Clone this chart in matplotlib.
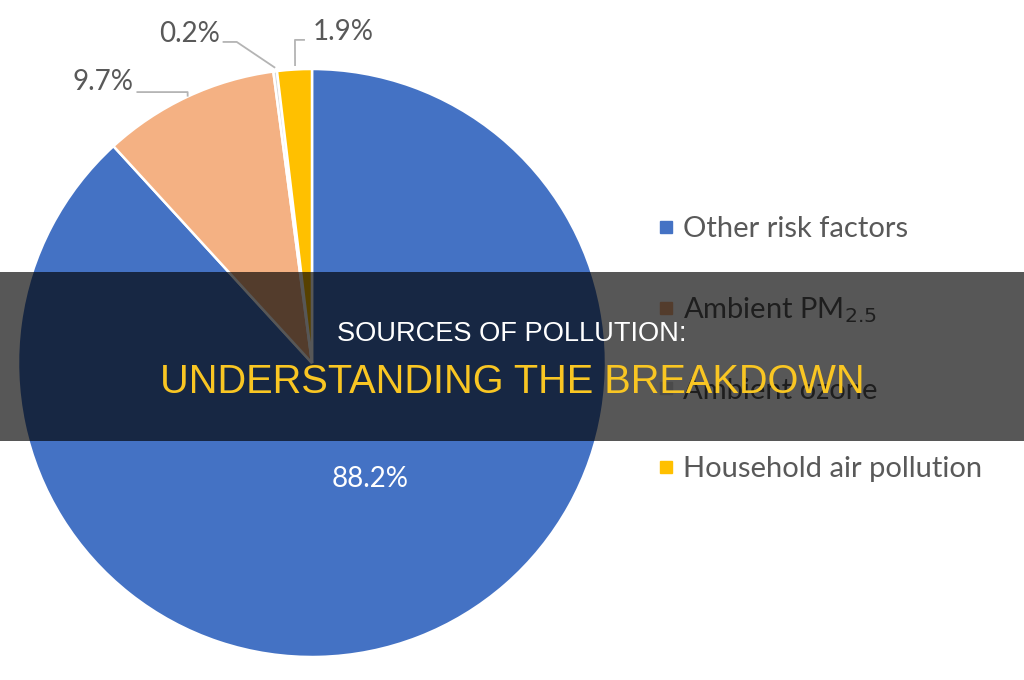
import numpy as np
import matplotlib
matplotlib.use('Agg')
import matplotlib.pyplot as plt
from matplotlib.patches import Rectangle
from matplotlib.lines import Line2D

# Data
categories = ['Other risk factors', 'Ambient PM$_{2.5}$', 'Ambient ozone', 'Household air pollution']
values = [88.2, 9.7, 0.2, 1.9]
labels = ['88.2%', '9.7%', '0.2%', '1.9%']
colors = ['#4472C4', '#F4B183', '#D9D9D9', '#FFC000']

title1 = 'SOURCES OF POLLUTION:'
title2 = 'UNDERSTANDING THE BREAKDOWN'

W, H = 1024, 680
fig = plt.figure(figsize=(W / 100, H / 100), dpi=100)
fig.patch.set_facecolor('white')

# pie axes: centre (312, 363), radius 294 px
cx, cy, r = 312, 363, 294
ax = fig.add_axes([(cx - r) / W, (H - cy - r) / H, 2 * r / W, 2 * r / H])
wedges, _ = ax.pie(values, colors=colors, startangle=90, counterclock=False,
                   radius=1.0, wedgeprops=dict(edgecolor='white', linewidth=1.8))
ax.set_xlim(-1, 1)
ax.set_ylim(-1, 1)
ax.set_aspect('equal')
ax.axis('off')

lab_color = '#595959'
lab_font = 'Lato'
line_color = '#B4B4B4'

# big slice label inside
ax.text(0.197, -0.393, labels[0], color='white', fontsize=20, family=lab_font,
        ha='center', va='center')


def edge_point(w):
    mid = np.deg2rad((w.theta1 + w.theta2) / 2)
    return np.cos(mid), np.sin(mid)


# 9.7% label
px, py = edge_point(wedges[1])
ax.plot([-0.597, -0.423, px], [0.9215, 0.9215, py], color=line_color, lw=1.3,
        clip_on=False, solid_capstyle='butt')
ax.text(-0.6075, 0.956, labels[1], color=lab_color, fontsize=20, family=lab_font,
        ha='right', va='center', clip_on=False)

# 0.2% label
px, py = edge_point(wedges[2])
ax.plot([-0.304, -0.256, px], [1.092, 1.092, py + 0.012], color=line_color, lw=1.3,
        clip_on=False, solid_capstyle='butt')
ax.text(-0.314, 1.119, labels[2], color=lab_color, fontsize=20, family=lab_font,
        ha='right', va='center', clip_on=False)

# 1.9% label
px, py = edge_point(wedges[3])
ax.plot([-0.024, -0.058, px + 0.002], [1.099, 1.099, py + 0.012], color=line_color, lw=1.3,
        clip_on=False, solid_capstyle='butt')
ax.text(0.003, 1.126, labels[3], color=lab_color, fontsize=20, family=lab_font,
        ha='left', va='center', clip_on=False)

# legend
handles = [Line2D([0], [0], marker='s', linestyle='', markersize=8.5,
                  markerfacecolor=c, markeredgecolor=c) for c in colors]
leg = fig.legend(handles, categories, loc='upper left', bbox_to_anchor=(628 / W, 1 - 190 / H),
                 frameon=False, prop=dict(family=lab_font, size=21), labelcolor=lab_color,
                 labelspacing=1.81, handlelength=0.8, handletextpad=0.2)

# dark overlay band
fig.patches.append(Rectangle((0, (H - 441) / H), 1, 169 / H, transform=fig.transFigure,
                             facecolor='black', alpha=0.66, edgecolor='none', zorder=10))
fig.text(0.5, 1 - 334 / H, title1, color='white', fontsize=19.6, family='Liberation Sans',
         ha='center', va='center', zorder=11)
fig.text(0.5, 1 - 382 / H, title2, color='#F9C623', fontsize=28.6, family='Liberation Sans',
         ha='center', va='center', zorder=11)

fig.savefig('out.png', dpi=100)
